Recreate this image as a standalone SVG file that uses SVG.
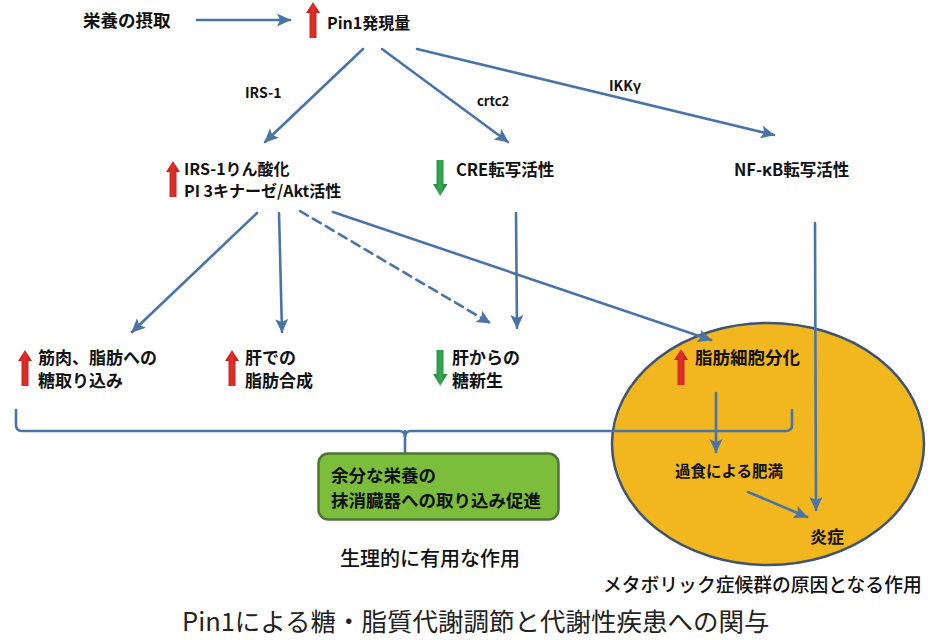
<svg xmlns="http://www.w3.org/2000/svg" width="942" height="640" viewBox="0 0 942 640">
<style>
text{font-family:"Noto Sans CJK JP","Noto Sans",sans-serif;fill:#111;font-weight:700}
.s14{font-size:14px}.s16{font-size:16px}.s17{font-size:17px}
.conn{stroke:#4A74A6;stroke-width:2.6;fill:none;stroke-linecap:round}
.red{fill:url(#rg)}.grn{fill:url(#gg)}
</style>
<defs>
<linearGradient id="rg" x1="0" y1="0" x2="1" y2="0"><stop offset="0" stop-color="#C21E18"/><stop offset="0.5" stop-color="#E0302A"/><stop offset="1" stop-color="#B51A15"/></linearGradient>
<linearGradient id="gg" x1="0" y1="0" x2="1" y2="0"><stop offset="0" stop-color="#23823C"/><stop offset="0.5" stop-color="#35A855"/><stop offset="1" stop-color="#217A38"/></linearGradient>
<path id="up" d="M7 0 L14 11 L10.5 11 L10.5 36 L3.5 36 L3.5 11 L0 11 Z"/>
<path id="down" d="M3.5 0 L10.5 0 L10.5 24 L14.5 24 L7.25 36 L0 24 L3.5 24 Z"/>
<marker id="ah" markerUnits="userSpaceOnUse" markerWidth="16" markerHeight="14" refX="13" refY="7" orient="auto">
<path d="M0 0.5 L14 7 L0 13.5 L3 7 Z" fill="#4A74A6"/>
</marker>
</defs>
<rect width="942" height="640" fill="#fff"/>

<g id="metabolic-ellipse">
<ellipse cx="768" cy="444" rx="156" ry="121" fill="#F2B61E" stroke="#3E5470" stroke-width="2.5"/>
</g>

<g id="connectors">
<line class="conn" x1="197" y1="20" x2="290" y2="20" marker-end="url(#ah)"/>
<line class="conn" x1="363" y1="49" x2="265" y2="142" marker-end="url(#ah)"/>
<line class="conn" x1="382" y1="49" x2="508" y2="142" marker-end="url(#ah)"/>
<line class="conn" x1="417" y1="49" x2="774" y2="135" marker-end="url(#ah)"/>
<line class="conn" x1="257" y1="213" x2="132" y2="332" marker-end="url(#ah)"/>
<line class="conn" x1="279" y1="213" x2="282" y2="332" marker-end="url(#ah)"/>
<line class="conn" x1="300" y1="211" x2="490" y2="323" stroke-dasharray="9,6" marker-end="url(#ah)"/>
<line class="conn" x1="333" y1="212" x2="711" y2="340" marker-end="url(#ah)"/>
<line class="conn" x1="516" y1="213" x2="517" y2="328" marker-end="url(#ah)"/>
<line class="conn" x1="815" y1="223" x2="816" y2="510" marker-end="url(#ah)"/>
<line class="conn" x1="716" y1="393" x2="716" y2="452" marker-end="url(#ah)"/>
<line class="conn" x1="748" y1="492" x2="807" y2="517" marker-end="url(#ah)"/>
<path class="conn" d="M16 410 L16 425 Q16 431 22 431 L399 431 Q405 431 405 437 Q405 431 411 431 L786 431 Q792 431 792 425 L792 410"/>
<line class="conn" x1="405" y1="431" x2="405" y2="454"/>
</g>

<g id="nutrient-intake">
<text x="83" y="27" style="font-size:17.5px">栄養の摂取</text>
</g>
<g id="pin1">
<use href="#up" x="306" y="2" class="red"/>
<text x="327" y="29" class="s16">Pin1発現量</text>
</g>
<g id="labels">
<text x="245" y="98" class="s14">IRS-1</text>
<text x="477" y="106" style="font-size:13px">crtc2</text>
<text x="609" y="91" class="s14">IKKγ</text>
</g>
<g id="irs1">
<use href="#up" x="166" y="161" class="red"/>
<text x="184" y="175" class="s16">IRS-1りん酸化</text>
<text x="184" y="197" class="s16">PI 3キナーゼ/Akt活性</text>
</g>
<g id="cre">
<use href="#down" x="433" y="160" class="grn"/>
<text x="456" y="176" style="font-size:16.5px">CRE転写活性</text>
</g>
<g id="nfkb">
<text x="734" y="176" style="font-size:16.5px">NF-κB転写活性</text>
</g>
<g id="muscle-uptake">
<use href="#up" x="18" y="350" class="red"/>
<text x="38" y="364" class="s17">筋肉、脂肪への</text>
<text x="38" y="387" class="s17">糖取り込み</text>
</g>
<g id="liver-lipid">
<use href="#up" x="225" y="350" class="red"/>
<text x="245" y="364" class="s17">肝での</text>
<text x="245" y="387" class="s17">脂肪合成</text>
</g>
<g id="gluconeogenesis">
<use href="#down" x="433" y="350" class="grn"/>
<text x="452" y="364" class="s17">肝からの</text>
<text x="452" y="387" class="s17">糖新生</text>
</g>
<g id="adipocyte">
<use href="#up" x="674" y="349" class="red"/>
<text x="695" y="364" style="font-size:17.5px">脂肪細胞分化</text>
</g>
<g id="obesity">
<text x="675" y="477" style="font-size:15.5px">過食による肥満</text>
</g>
<g id="inflammation">
<text x="810" y="543" class="s17">炎症</text>
</g>
<g id="uptake-box">
<rect x="318.5" y="453.5" width="240" height="66" rx="10" fill="#7DBD3C" stroke="#4E7636" stroke-width="2.5"/>
<text x="331" y="482" style="font-size:17.5px">余分な栄養の</text>
<text x="331" y="507" style="font-size:17.5px">抹消臓器への取り込み促進</text>
</g>
<g id="captions">
<text x="340" y="566" style="font-size:20px;font-weight:500">生理的に有用な作用</text>
<text x="603" y="592" style="font-size:18.8px;font-weight:500">メタボリック症候群の原因となる作用</text>
<text x="182" y="631" style="font-size:25.5px;font-weight:400;fill:#222">Pin1による糖・脂質代謝調節と代謝性疾患への関与</text>
</g>
</svg>
